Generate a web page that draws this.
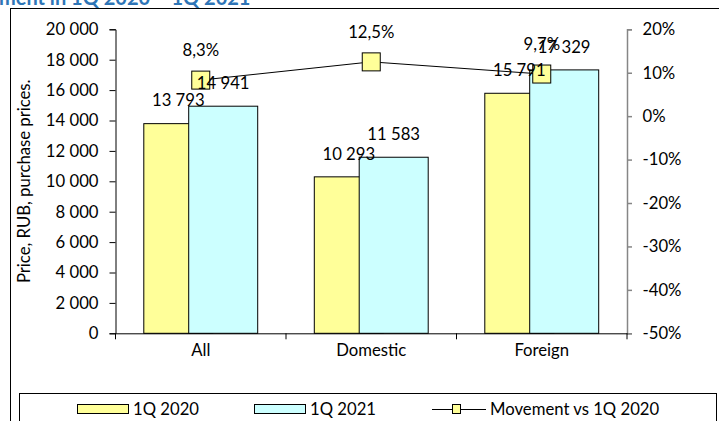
<!DOCTYPE html>
<html>
<head>
<meta charset="utf-8">
<script src="https://cdn.jsdelivr.net/npm/d3@7"></script>
<style>
  body { margin: 0; background: #fff; }
  svg { display: block; font-family: Lato, "Open Sans", sans-serif; }
</style>
</head>
<body>
<script>
// chart data
var categories = ["All", "Domestic", "Foreign"];
var price2020 = [13793, 10293, 15791];
var price2021 = [14941, 11583, 17329];
var movement = [0.083, 0.125, 0.097];
var movementLabels = ["8,3%", "12,5%", "9,7%"];
var leftTicks = [0, 2000, 4000, 6000, 8000, 10000, 12000, 14000, 16000, 18000, 20000];
var rightTicks = [-0.5, -0.4, -0.3, -0.2, -0.1, 0, 0.1, 0.2];

var width = 719;
var height = 421;
var fontSize = 16.7;
var plot = { left: 115.5, right: 627, top: 29.3, bottom: 333.3 };

var svg = d3
  .select("body")
  .append("svg")
  .attr("width", width)
  .attr("height", height);

// title, mostly cut off by the top of the picture
svg
  .append("text")
  .attr("x", -1)
  .attr("y", 5)
  .style("font-weight", "bold")
  .style("font-size", "20px")
  .style("fill", "#2E75B6")
  .text("ment in 1Q 2020 – 1Q 2021");

// chart frame
svg
  .append("rect")
  .attr("x", 10.5)
  .attr("y", 8.5)
  .attr("width", 720)
  .attr("height", 430)
  .style("fill", "none")
  .style("stroke", "#000");

var xScale = d3
  .scaleBand()
  .domain(categories)
  .range([plot.left, plot.right]);

var yScale = d3
  .scaleLinear()
  .domain([0, 20000])
  .range([plot.bottom, plot.top]);

var y2Scale = d3
  .scaleLinear()
  .domain([-0.5, 0.2])
  .range([plot.bottom, plot.top]);

var barWidth = 69;
var barShift = 44.9;
var groupWidth = barWidth + barShift;

var fmtThousands = function (v) {
  return d3.format(",")(v).replace(/,/g, " ");
};
var fmtPercent = function (v) {
  return d3.format(".0%")(v).replace("−", "-");
};

// left axis
var yAxis = d3
  .axisLeft(yScale)
  .tickValues(leftTicks)
  .tickFormat(fmtThousands)
  .tickSize(6)
  .tickPadding(11);
var gy = svg
  .append("g")
  .attr("transform", "translate(" + plot.left + ",0)")
  .call(yAxis);
gy.selectAll("text").style("font-size", fontSize + "px").style("font-family", "Lato").style("fill", "#000");
gy.selectAll("line, path").style("stroke", "#000");

// right axis (grey)
var y2Axis = d3
  .axisRight(y2Scale)
  .tickValues(rightTicks)
  .tickFormat(fmtPercent)
  .tickSize(5)
  .tickPadding(10.5);
var gy2 = svg
  .append("g")
  .attr("transform", "translate(" + plot.right + ",0)")
  .call(y2Axis);
gy2.selectAll("text").style("font-size", fontSize + "px").style("font-family", "Lato").style("fill", "#000");
gy2.selectAll("line, path").style("stroke", "#868686").style("stroke-width", 1.5);

// y axis title
svg
  .append("text")
  .attr("transform", "translate(30," + (plot.top + plot.bottom) / 2 + ") rotate(-90)")
  .style("text-anchor", "middle")
  .style("font-size", fontSize + "px")
  .text("Price, RUB, purchase prices.");

// bars
var bars = svg.append("g");
bars
  .selectAll("rect.y2020")
  .data(categories)
  .enter()
  .append("rect")
  .attr("class", "y2020")
  .attr("x", function (d) {
    return xScale(d) + xScale.bandwidth() / 2 - groupWidth / 2;
  })
  .attr("y", function (d, i) {
    return yScale(price2020[i]);
  })
  .attr("width", barWidth)
  .attr("height", function (d, i) {
    return plot.bottom - yScale(price2020[i]);
  })
  .style("fill", "#FFFF99")
  .style("stroke", "#000")
  .style("stroke-width", 1);

bars
  .selectAll("rect.y2021")
  .data(categories)
  .enter()
  .append("rect")
  .attr("class", "y2021")
  .attr("x", function (d) {
    return xScale(d) + xScale.bandwidth() / 2 - groupWidth / 2 + barShift;
  })
  .attr("y", function (d, i) {
    return yScale(price2021[i]);
  })
  .attr("width", barWidth)
  .attr("height", function (d, i) {
    return plot.bottom - yScale(price2021[i]);
  })
  .style("fill", "#CCFFFF")
  .style("stroke", "#000")
  .style("stroke-width", 1);

// bottom axis
var xAxis = d3
  .axisBottom(xScale)
  .tickSize(0)
  .tickPadding(11);
var gx = svg
  .append("g")
  .attr("transform", "translate(0," + plot.bottom + ")")
  .call(xAxis);
gx.selectAll("text").style("font-size", fontSize + "px").style("font-family", "Lato").style("fill", "#000");
gx.select("path").style("stroke", "#000");
gx
  .selectAll("line.edge")
  .data(categories.concat(["end"]))
  .enter()
  .append("line")
  .attr("class", "edge")
  .attr("x1", function (d) {
    return d === "end" ? plot.right : xScale(d);
  })
  .attr("x2", function (d) {
    return d === "end" ? plot.right : xScale(d);
  })
  .attr("y1", 0)
  .attr("y2", 6)
  .style("stroke", "#000");

// movement line
var cx = function (d) {
  return xScale(d) + xScale.bandwidth() / 2;
};
var line = d3
  .line()
  .x(function (d) {
    return cx(d);
  })
  .y(function (d, i) {
    return y2Scale(movement[i]);
  });
svg
  .append("path")
  .datum(categories)
  .attr("d", line)
  .style("fill", "none")
  .style("stroke", "#000")
  .style("stroke-width", 1);

var markerSize = 18;
svg
  .selectAll("rect.marker")
  .data(categories)
  .enter()
  .append("rect")
  .attr("class", "marker")
  .attr("x", function (d) {
    return cx(d) - markerSize / 2;
  })
  .attr("y", function (d, i) {
    return y2Scale(movement[i]) - markerSize / 2;
  })
  .attr("width", markerSize)
  .attr("height", markerSize)
  .style("fill", "#FFFF99")
  .style("stroke", "#000");

// data labels
var labels = svg.append("g").style("font-size", fontSize + "px").style("text-anchor", "middle");
labels
  .selectAll("text.l2020")
  .data(categories)
  .enter()
  .append("text")
  .attr("x", function (d) {
    return xScale(d) + xScale.bandwidth() / 2 - groupWidth / 2 + barWidth / 2;
  })
  .attr("y", function (d, i) {
    return yScale(price2020[i]) - 23;
  })
  .attr("dy", "0.35em")
  .text(function (d, i) {
    return fmtThousands(price2020[i]);
  });
labels
  .selectAll("text.l2021")
  .data(categories)
  .enter()
  .append("text")
  .attr("x", function (d) {
    return xScale(d) + xScale.bandwidth() / 2 - groupWidth / 2 + barShift + barWidth / 2;
  })
  .attr("y", function (d, i) {
    return yScale(price2021[i]) - 23;
  })
  .attr("dy", "0.35em")
  .text(function (d, i) {
    return fmtThousands(price2021[i]);
  });
labels
  .selectAll("text.lmove")
  .data(categories)
  .enter()
  .append("text")
  .attr("x", cx)
  .attr("y", function (d, i) {
    return y2Scale(movement[i]) - 30;
  })
  .attr("dy", "0.35em")
  .text(function (d, i) {
    return movementLabels[i];
  });

// legend
var legend = svg.append("g");
legend
  .append("rect")
  .attr("x", 19.5)
  .attr("y", 393.5)
  .attr("width", 697)
  .attr("height", 40)
  .style("fill", "#fff")
  .style("stroke", "#000");

var legendY = 409;
var legendItems = [
  { label: "1Q 2020", x: 77, fill: "#FFFF99" },
  { label: "1Q 2021", x: 254, fill: "#CCFFFF" }
];
legendItems.forEach(function (item) {
  legend
    .append("rect")
    .attr("x", item.x + 0.5)
    .attr("y", legendY - 4.5)
    .attr("width", 51)
    .attr("height", 9)
    .style("fill", item.fill)
    .style("stroke", "#000");
  legend
    .append("text")
    .attr("x", item.x + 56)
    .attr("y", legendY)
    .attr("dy", "0.35em")
    .style("font-size", fontSize + "px")
    .text(item.label);
});
legend
  .append("line")
  .attr("x1", 432)
  .attr("x2", 486)
  .attr("y1", legendY + 0.5)
  .attr("y2", legendY + 0.5)
  .style("stroke", "#000");
legend
  .append("rect")
  .attr("x", 452.5)
  .attr("y", legendY - 4.5)
  .attr("width", 8)
  .attr("height", 9)
  .style("fill", "#FFFF99")
  .style("stroke", "#000");
legend
  .append("text")
  .attr("x", 490)
  .attr("y", legendY)
  .attr("dy", "0.35em")
  .style("font-size", fontSize + "px")
  .text("Movement vs 1Q 2020");
</script>
</body>
</html>
